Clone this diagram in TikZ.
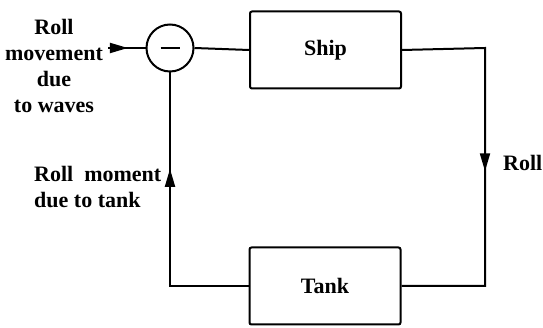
\documentclass[tikz,border=0pt]{standalone}
\usepackage{fontspec}
\setmainfont{Liberation Serif}
\usetikzlibrary{arrows.meta,decorations.markings}

\tikzset{
  blockbox/.style={draw,line width=2pt,rounded corners=2pt,minimum width=151pt,minimum height=77pt,inner sep=0pt},
  sumnode/.style={draw,circle,line width=2pt,minimum size=47pt,inner sep=0pt},
  flow/.style={line width=2pt},
  tipat/.style={postaction={decorate},decoration={markings,
      mark=at position #1 with {\arrow{Triangle[length=18pt,width=10pt]}}}},
  lbl/.style={font=\fontsize{22}{26}\selectfont\bfseries,inner sep=0pt}
}

\begin{document}
\begin{tikzpicture}[x=1pt,y=-1pt]
        \useasboundingbox (0,0) rectangle (543,328);
        % blocks
        \node[sumnode] (sum) at (170,48) {\rule{19pt}{2.6pt}};
        \node[blockbox,lbl] (ship) at (325.5,50) {Ship};
        \node[blockbox,lbl] (tank) at (325,286) {Tank};
        \coordinate (in) at (108,48);
        % texts
        \node[lbl,align=center] (waves) at (54,66) {Roll\\movement\\due\\to waves};
        \node[lbl,align=left,anchor=west] (moment) at (34,187) {Roll\ \ moment\\due to tank};
        \node[lbl,anchor=west] (roll) at (503,163) {Roll};
        % connectors
        \draw[flow,tipat=0.53] (in) -- (sum.west);
        \draw[flow] (sum.east) -- (ship.west);
        \draw[flow,tipat=0.51] (ship.east) -- (485,48) |- (tank.east);
        \draw[flow,tipat=0.67] (tank.west) -| (sum.south);
      \end{tikzpicture}
\end{document}
